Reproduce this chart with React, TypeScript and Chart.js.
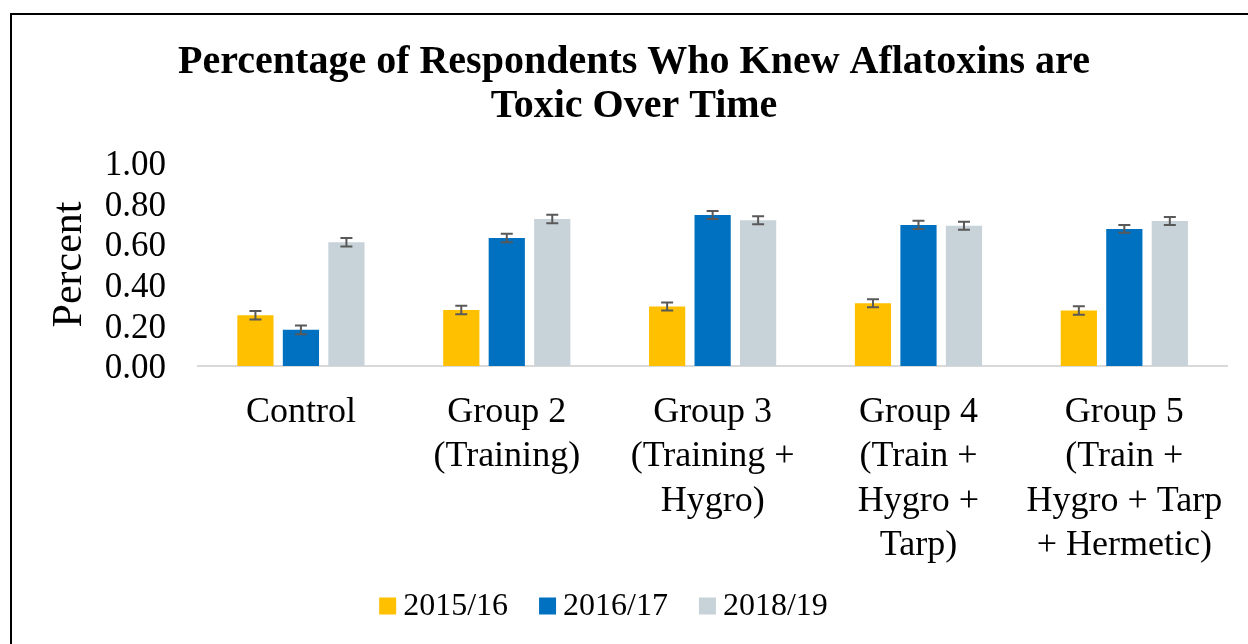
import React, { useEffect, useRef } from 'react';
import { Chart, registerables } from 'chart.js';

Chart.register(...registerables);

const FONT = "'Liberation Serif', 'Times New Roman', serif";

const titleLines = ['Percentage of Respondents Who Knew Aflatoxins are', 'Toxic Over Time'];
const yAxisTitle = 'Percent';
const categories = [
  ['Control'],
  ['Group 2', '(Training)'],
  ['Group 3', '(Training +', 'Hygro)'],
  ['Group 4', '(Train +', 'Hygro +', 'Tarp)'],
  ['Group 5', '(Train +', 'Hygro + Tarp', '+ Hermetic)'],
];
const seriesLabels = ['2015/16', '2016/17', '2018/19'];
const seriesColors = ['#FFC000', '#0070C0', '#C8D2D9'];
const values2015 = [0.25, 0.276, 0.293, 0.309, 0.273];
const values2016 = [0.178, 0.63, 0.744, 0.695, 0.675];
const values2018 = [0.61, 0.724, 0.718, 0.691, 0.714];
const errors2015 = [0.021, 0.021, 0.02, 0.02, 0.021];
const errors2016 = [0.021, 0.021, 0.02, 0.02, 0.019];
const errors2018 = [0.021, 0.021, 0.02, 0.02, 0.02];
const yMin = 0;
const yMax = 1;
const yStep = 0.2;

const seriesValues = [values2015, values2016, values2018];
const seriesErrors = [errors2015, errors2016, errors2018];

const errorBarPlugin = {
  id: 'errorBars',
  afterDatasetsDraw(chart: any) {
    const ctx = chart.ctx;
    const yScale = chart.scales.y;
    ctx.save();
    ctx.strokeStyle = '#595959';
    ctx.lineWidth = 2;
    chart.data.datasets.forEach((ds: any, i: number) => {
      const meta = chart.getDatasetMeta(i);
      const errs = seriesErrors[i];
      meta.data.forEach((el: any, j: number) => {
        const v = ds.data[j];
        const e = errs[j];
        const yTop = yScale.getPixelForValue(v + e);
        const yBot = yScale.getPixelForValue(v - e);
        const x = el.x;
        const cap = 6;
        ctx.beginPath();
        ctx.moveTo(x, yTop);
        ctx.lineTo(x, yBot);
        ctx.moveTo(x - cap, yTop);
        ctx.lineTo(x + cap, yTop);
        ctx.moveTo(x - cap, yBot);
        ctx.lineTo(x + cap, yBot);
        ctx.stroke();
      });
    });
    ctx.restore();
  },
};

const legendPlugin = {
  id: 'customLegend',
  afterDraw(chart: any) {
    const ctx = chart.ctx;
    ctx.save();
    ctx.font = `32px ${FONT}`;
    const box = 17;
    const gap = 7;
    const itemGap = 31;
    const cx = 603.5;
    const cy = 606;
    const ds = chart.data.datasets;
    const widths = ds.map((d: any) => box + gap + ctx.measureText(d.label).width);
    const total = widths.reduce((a: number, b: number) => a + b, 0) + itemGap * (widths.length - 1);
    let x = cx - total / 2;
    ds.forEach((d: any, i: number) => {
      ctx.fillStyle = d.backgroundColor;
      ctx.fillRect(x, cy - box / 2, box, box);
      ctx.fillStyle = '#000';
      ctx.textBaseline = 'middle';
      ctx.textAlign = 'left';
      ctx.fillText(d.label, x + box + gap, cy + 1);
      x += widths[i] + itemGap;
    });
    ctx.restore();
  },
};

export default function App() {
  const ref = useRef<HTMLCanvasElement | null>(null);

  useEffect(() => {
    if (!ref.current) return;
    const chart = new Chart(ref.current, {
      type: 'bar',
      data: {
        labels: categories,
        datasets: seriesLabels.map((label, i) => ({
          label,
          data: seriesValues[i],
          backgroundColor: seriesColors[i],
          borderWidth: 0,
          barPercentage: 0.796,
          categoryPercentage: 0.663,
        })),
      },
      options: {
        responsive: false,
        animation: false,
        devicePixelRatio: 1,
        layout: { padding: { left: 38, right: 18, top: 0, bottom: 0 } },
        plugins: {
          legend: { display: false },
          tooltip: { enabled: false },
          title: {
            display: true,
            text: titleLines,
            color: '#000',
            font: { family: FONT, size: 40, weight: 'bold', lineHeight: 44 / 40 },
            padding: { top: 41, bottom: 34 },
          },
        },
        scales: {
          x: {
            grid: { display: false, drawTicks: false },
            border: { display: true, color: '#D9D9D9', width: 2 },
            ticks: {
              color: '#000',
              font: { family: FONT, size: 36, lineHeight: 44.5 / 36 },
              padding: 24,
              maxRotation: 0,
              minRotation: 0,
              autoSkip: false,
            },
            afterFit: (scale: any) => {
              scale.height = 644 - 366;
            },
          },
          y: {
            min: yMin,
            max: yMax,
            grid: { display: false, drawTicks: false },
            border: { display: false },
            ticks: {
              stepSize: yStep,
              autoSkip: false,
              color: '#000',
              font: { family: FONT, size: 35 },
              padding: 32,
              labelOffset: 3,
              callback: (v: any) => Number(v).toFixed(2),
            },
            title: {
              display: true,
              text: yAxisTitle,
              color: '#000',
              font: { family: FONT, size: 42, lineHeight: 1.2 },
              padding: { top: 7, bottom: 0 },
            },
            afterFit: (scale: any) => {
              scale.width = 198 - 38;
            },
          },
        },
      },
      plugins: [errorBarPlugin, legendPlugin],
    });
    return () => chart.destroy();
  }, []);

  return (
    <div
      style={{
        position: 'fixed',
        left: 0,
        top: 0,
        width: 1248,
        height: 644,
        overflow: 'hidden',
        background: '#fff',
      }}
    >
      <div
        style={{
          position: 'absolute',
          left: 10,
          top: 13,
          width: 1300,
          height: 700,
          borderLeft: '2px solid #000',
          borderTop: '2px solid #000',
        }}
      />
      <canvas
        ref={ref}
        width={1248}
        height={644}
        style={{ position: 'absolute', left: 0, top: 0, width: 1248, height: 644 }}
      />
    </div>
  );
}
